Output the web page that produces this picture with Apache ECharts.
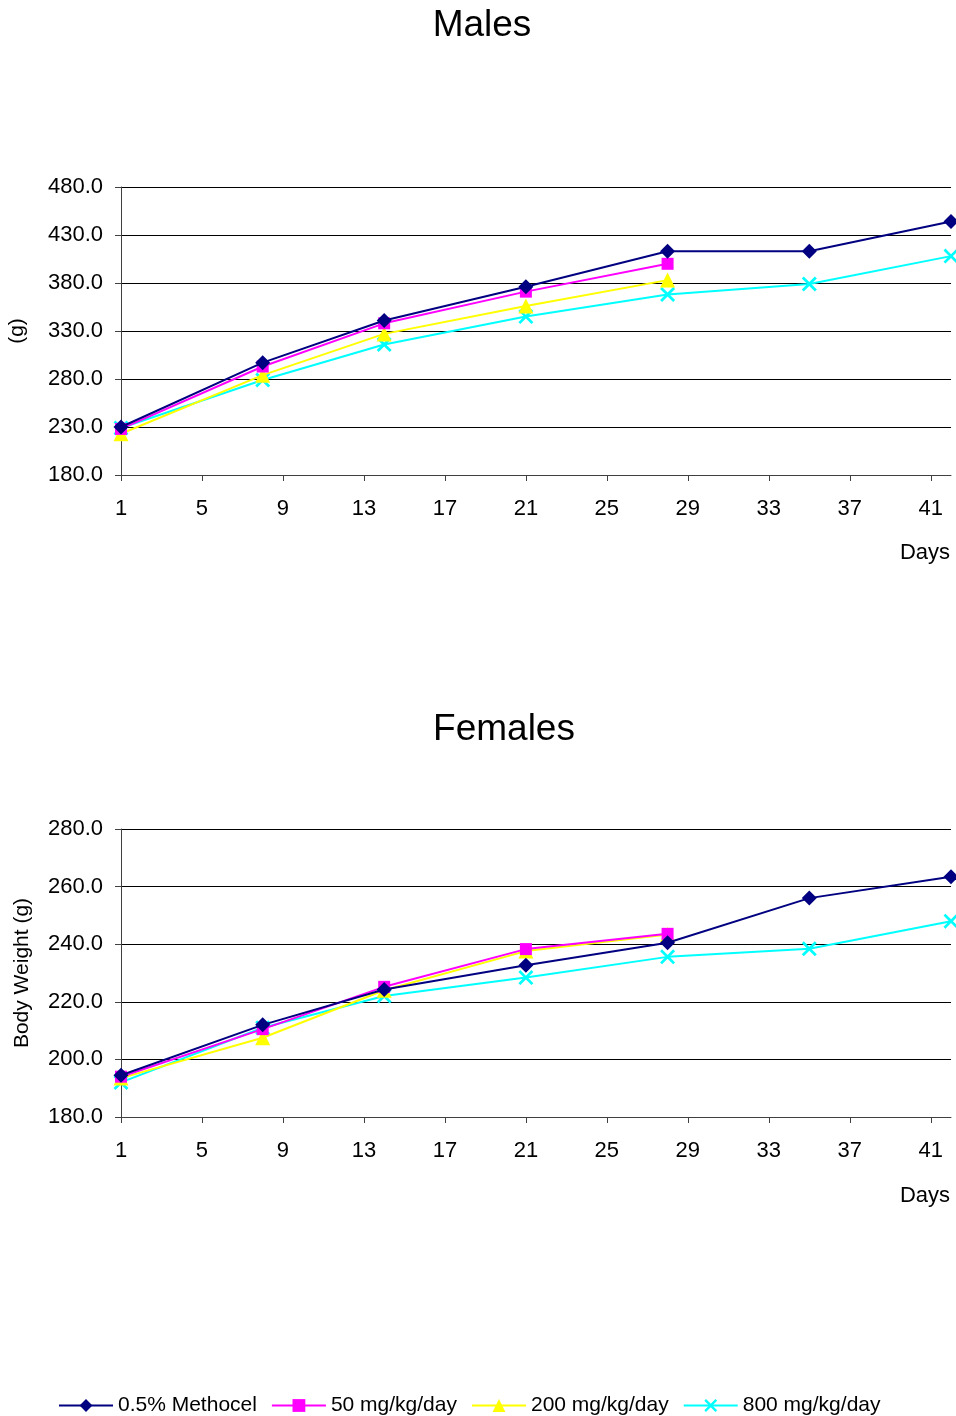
<!DOCTYPE html>
<html>
<head>
<meta charset="utf-8">
<script src="https://cdn.jsdelivr.net/npm/echarts@6/dist/echarts.min.js"></script>
<style>
html,body{margin:0;padding:0;background:#fff;}
#chart{width:956px;height:1416px;}
</style>
</head>
<body>
<div id="chart"></div>
<script>
// Category labels (days of study)
var dayCategories = ['1','2','3','4','5','6','7','8','9','10','11','12','13','14','15','16','17','18','19','20','21',
  '22','23','24','25','26','27','28','29','30','31','32','33','34','35','36','37','38','39','40','41','42'];
// Days on which body weight was measured
var days = [1, 8, 14, 21, 28, 35, 42];

var seriesNames = ['0.5% Methocel', '50 mg/kg/day', '200 mg/kg/day', '800 mg/kg/day'];

// Males body weight (g)
var malesMethocel = [230, 297, 341, 376, 413, 413, 444];
var males50 = [228, 293, 338, 371, 400];
var males200 = [223, 284, 327, 356, 383];
var males800 = [229, 279, 316, 345, 368, 379, 408];

// Females body weight (g)
var femalesMethocel = [194.5, 212, 224.3, 232.7, 240.5, 256, 263.4];
var females50 = [194, 210.5, 225.2, 238.3, 243.6];
var females200 = [193.5, 207.5, 224, 237.6, 243.4];
var females800 = [192, 211, 222, 228.4, 235.6, 238.4, 248];

var colors = ['#000080', '#FF00FF', '#FFFF00', '#00FFFF'];
var xPath = 'path://M0,1.3L1.3,0L5,3.7L8.7,0L10,1.3L6.3,5L10,8.7L8.7,10L5,6.3L1.3,10L0,8.7L3.7,5Z';
var symbols = ['diamond', 'rect', 'triangle', xPath];
var symbolSizes = [15, 12, 15, 15];

var FONT = "'Liberation Sans', Arial, sans-serif";

function pairs(vals) {
  return vals.map(function (v, i) { return [String(days[i]), v]; });
}

function makeSeries(vals, idx, gridIdx) {
  return {
    name: seriesNames[idx],
    type: 'line',
    xAxisIndex: gridIdx,
    yAxisIndex: gridIdx,
    data: pairs(vals),
    symbol: symbols[idx],
    symbolSize: symbolSizes[idx],
    showAllSymbol: true,
    animation: false,
    z: 10 - idx,
    lineStyle: { color: colors[idx], width: 2 },
    itemStyle: { color: colors[idx], opacity: 1 },
    clip: false
  };
}

function xAxisFor(gridIdx) {
  return {
    type: 'category',
    gridIndex: gridIdx,
    data: dayCategories,
    boundaryGap: false,
    axisLine: { show: true, lineStyle: { color: '#404040', width: 1 } },
    axisTick: { show: true, interval: 3, length: 6, inside: false, lineStyle: { color: '#404040' } },
    axisLabel: { interval: 3, color: '#000', fontSize: 22, fontFamily: FONT, margin: 23 },
    splitLine: { show: false }
  };
}

function yAxisFor(gridIdx, min, max, interval, name, gap) {
  return {
    type: 'value',
    gridIndex: gridIdx,
    min: min, max: max, interval: interval,
    name: name,
    nameLocation: 'middle',
    nameGap: gap,
    nameRotate: 90,
    nameTextStyle: { color: '#000', fontSize: 21, fontFamily: FONT },
    axisLine: { show: true, lineStyle: { color: '#404040', width: 1 } },
    axisTick: { show: true, length: 6, lineStyle: { color: '#404040' } },
    axisLabel: {
      color: '#000', fontSize: 22, fontFamily: FONT, margin: 18,
      formatter: function (v) { return v.toFixed(1); }
    },
    splitLine: { show: true, lineStyle: { color: '#000', width: 1 } }
  };
}

var chart = echarts.init(document.getElementById('chart'), null, { renderer: 'canvas' });
chart.setOption({
  backgroundColor: '#fff',
  animation: false,
  title: [
    { text: 'Males', left: 482, top: 7, textAlign: 'center', padding: 0,
      textStyle: { fontSize: 37, fontWeight: 'normal', color: '#000', fontFamily: FONT } },
    { text: 'Females', left: 504, top: 711, textAlign: 'center', padding: 0,
      textStyle: { fontSize: 37, fontWeight: 'normal', color: '#000', fontFamily: FONT } }
  ],
  grid: [
    { left: 121, top: 187, width: 830, height: 288, containLabel: false, outerBoundsMode: 'none' },
    { left: 121, top: 829, width: 830, height: 288, containLabel: false, outerBoundsMode: 'none' }
  ],
  xAxis: [xAxisFor(0), xAxisFor(1)],
  yAxis: [
    yAxisFor(0, 180, 480, 50, '(g)', 93),
    yAxisFor(1, 180, 280, 20, 'Body Weight (g)', 88)
  ],
  legend: {
    data: seriesNames,
    left: 53,
    top: 1390,
    itemWidth: 54,
    itemHeight: 16,
    itemGap: 14,
    textStyle: { color: '#000', fontSize: 21, fontFamily: FONT },
    selectedMode: false
  },
  graphic: [
    { type: 'text', right: 6, top: 542,
      style: { text: 'Days', fill: '#000', fontSize: 22, fontFamily: FONT } },
    { type: 'text', right: 6, top: 1185,
      style: { text: 'Days', fill: '#000', fontSize: 22, fontFamily: FONT } }
  ],
  series: [
    makeSeries(malesMethocel, 0, 0),
    makeSeries(males50, 1, 0),
    makeSeries(males200, 2, 0),
    makeSeries(males800, 3, 0),
    makeSeries(femalesMethocel, 0, 1),
    makeSeries(females50, 1, 1),
    makeSeries(females200, 2, 1),
    makeSeries(females800, 3, 1)
  ]
});
</script>
</body>
</html>
